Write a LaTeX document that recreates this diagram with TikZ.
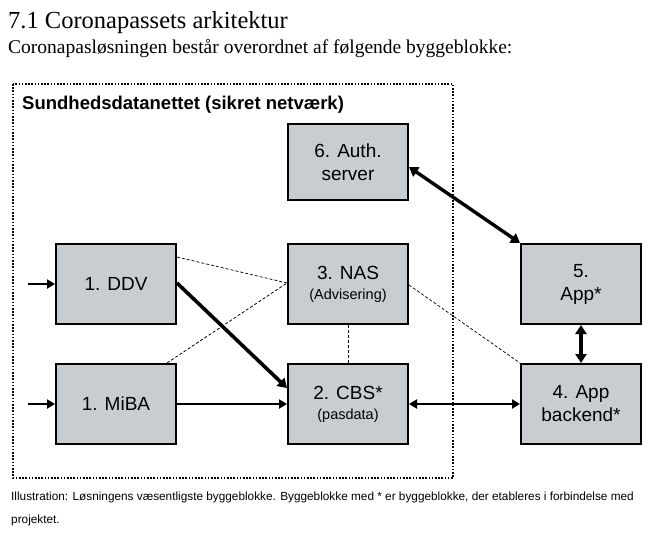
\documentclass[tikz,border=0pt]{standalone}
\usepackage{fontspec}
\setmainfont{Liberation Sans}
\newfontfamily\titlefont{Liberation Serif}
\usetikzlibrary{arrows.meta}
\definecolor{boxgray}{RGB}{199,205,209}
\tikzset{
  blk/.style={draw=black, line width=2pt, fill=boxgray, minimum width=120pt, minimum height=80pt, inner sep=0pt, align=center, font=\fontsize{19}{23}\selectfont},
  thickarr/.style={line width=3.6pt, -{Triangle[length=9pt,width=11pt]}},
  thickdbl/.style={line width=3.4pt, {Triangle[length=9pt,width=11pt]}-{Triangle[length=9pt,width=11pt]}},
  medarr/.style={line width=2.6pt, -{Triangle[length=8pt,width=9pt]}},
  meddbl/.style={line width=2.6pt, {Triangle[length=8pt,width=9pt]}-{Triangle[length=8pt,width=9pt]}},
  thin dash/.style={line width=0.7pt, dash pattern=on 3pt off 2pt},
  frame/.style={line width=2pt, dash pattern=on 1.6pt off 1.6pt},
}
\newcommand{\sublbl}[1]{{\fontsize{14.5}{16}\selectfont #1}}
\begin{document}
\begin{tikzpicture}[x=1pt,y=-1pt]
\useasboundingbox (0,0) rectangle (649,533);
% headings
\node[anchor=base west, inner sep=0pt, font=\titlefont\fontsize{24.5}{28}\selectfont] (title) at (8,28) {7.1 Coronapassets arkitektur};
\node[anchor=base west, inner sep=0pt, font=\titlefont\fontsize{19.5}{22}\selectfont] (subtitle) at (8,53) {Coronapasløsningen består overordnet af følgende byggeblokke:};
% frame
\draw[frame] (13,84) rectangle (453,478);
\node[anchor=base west, inner sep=0pt, font=\bfseries\fontsize{18.5}{22}\selectfont] (framelbl) at (22,109) {Sundhedsdatanettet (sikret netværk)};
% blocks
\node[blk, minimum height=76pt] (auth) at (348,162) {6. Auth.\\server};
\node[blk] (ddv) at (116,284) {1. DDV};
\node[blk] (miba) at (116,404) {1. MiBA};
\node[blk] (nas) at (348,284) {3. NAS\\[-3pt]\sublbl{(Advisering)}};
\node[blk] (cbs) at (348,404) {2. CBS*\\[-3pt]\sublbl{(pasdata)}};
\node[blk] (app) at (581,284) {5.\\App*};
\node[blk] (backend) at (581,404) {4. App\\backend*};
% inputs
\coordinate (inddv) at (28,284);
\coordinate (inmiba) at (28,404);
\draw[medarr] (inddv) -- (ddv.west);
\draw[medarr] (inmiba) -- (miba.west);
% dashed relations
\draw[thin dash] ([yshift=27pt]ddv.east) -- ([yshift=1pt]nas.west);
\draw[thin dash] ([xshift=-10pt]miba.north east) -- ([yshift=1pt]nas.west);
\draw[thin dash] ([yshift=-1pt]nas.east) -- (backend.north west);
\draw[thin dash] (nas.south) -- (cbs.south |- cbs.north);
% solid connectors
\draw[thickarr] ([yshift=1pt]ddv.east) -- ([yshift=16pt]cbs.west);
\draw[medarr] (miba.east) -- (cbs.west);
\draw[meddbl] (cbs.east) -- (backend.west);
\draw[thickdbl] (app.south) -- (backend.north);
\draw[thickdbl] ([yshift=-5pt]auth.east) -- (app.north west);
% caption
\node[anchor=base west, inner sep=0pt, font=\fontsize{11.8}{14}\selectfont] (cap1) at (11,500) {Illustration: Løsningens væsentligste byggeblokke. Byggeblokke med * er byggeblokke, der etableres i forbindelse med};
\node[anchor=base west, inner sep=0pt, font=\fontsize{11.8}{14}\selectfont] (cap2) at (11,523) {projektet.};
\end{tikzpicture}
\end{document}
